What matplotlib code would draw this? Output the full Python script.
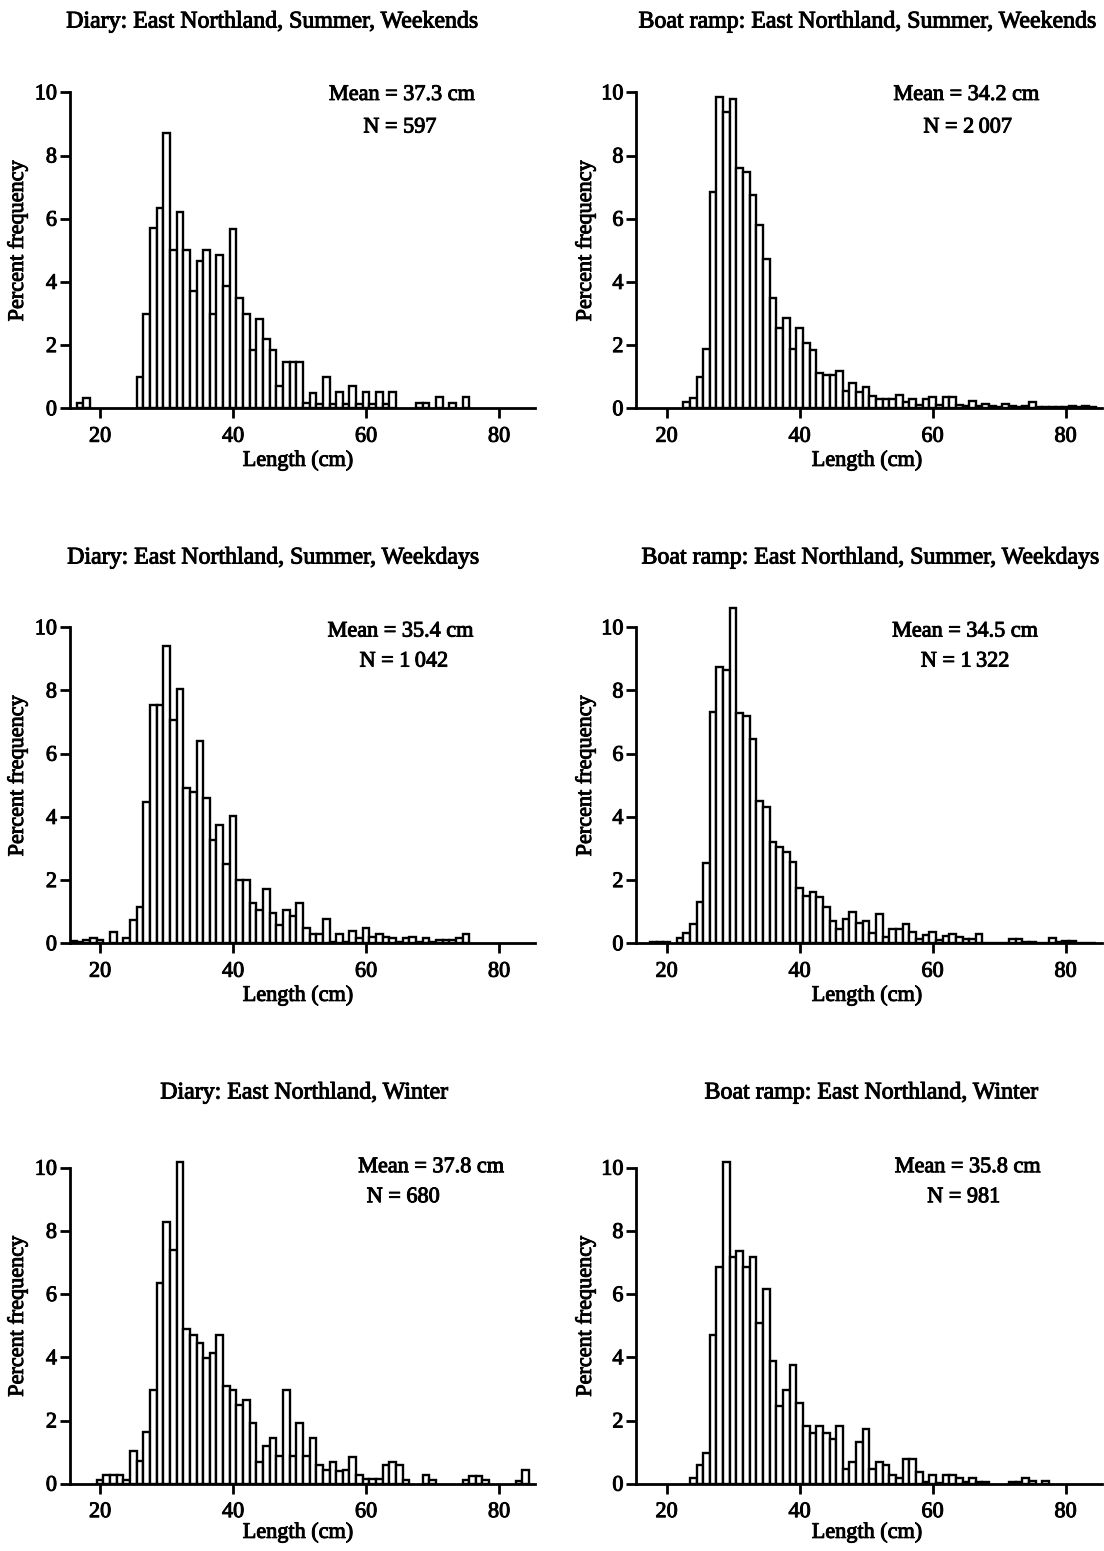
import numpy as np
import matplotlib
matplotlib.use("Agg")
import matplotlib.pyplot as plt
import matplotlib.patheffects as pe

plt.rcParams['font.family'] = ['Liberation Serif', 'DejaVu Serif']

# Length classes (cm), 1 cm bins centred on whole centimetres
lengths = np.arange(15, 86)

# Percent frequency per 1 cm length class, 15 cm .. 85 cm
diary_summer_weekends = [
    0, 0, 0.16, 0.32, 0, 0, 0, 0, 0, 0,                       # 15-24
    0, 1.0, 3.0, 5.7, 6.35, 8.7, 5.0, 6.2, 5.0, 3.7,          # 25-34
    4.66, 5.0, 3.0, 4.84, 3.86, 5.68, 3.49, 3.0, 1.85, 2.84,  # 35-44
    2.19, 1.83, 0.69, 1.48, 1.48, 1.48, 0.16, 0.48, 0.14, 1.0,  # 45-54
    0.14, 0.5, 0.14, 0.69, 0.14, 0.5, 0.14, 0.5, 0.14, 0.5,   # 55-64
    0, 0, 0, 0.18, 0.18, 0, 0.35, 0, 0.17, 0,                 # 65-74
    0.35, 0, 0, 0, 0, 0, 0, 0, 0, 0, 0,                       # 75-85
]
ramp_summer_weekends = [
    0, 0, 0, 0, 0, 0, 0, 0, 0.21, 0.32,                       # 15-24
    1.0, 1.87, 6.86, 9.86, 9.37, 9.79, 7.62, 7.48, 6.74, 5.8,  # 25-34
    4.74, 3.49, 2.54, 2.86, 1.87, 2.54, 2.06, 1.85, 1.11, 1.05,  # 35-44
    1.05, 1.17, 0.56, 0.81, 0.53, 0.67, 0.39, 0.31, 0.31, 0.31,  # 45-54
    0.42, 0.21, 0.31, 0.11, 0.31, 0.35, 0.1, 0.35, 0.35, 0.11,  # 55-64
    0.07, 0.24, 0.07, 0.14, 0.07, 0.05, 0.13, 0.07, 0.05, 0.07,  # 65-74
    0.21, 0.05, 0.05, 0.03, 0.05, 0.03, 0.07, 0.05, 0.07, 0.05, 0,  # 75-85
]
diary_summer_weekdays = [
    0, 0.07, 0.05, 0.1, 0.18, 0.1, 0, 0.37, 0, 0.18,          # 15-24
    0.74, 1.14, 4.48, 7.55, 7.55, 9.4, 7.06, 8.04, 4.9, 4.79,  # 25-34
    6.4, 4.6, 3.26, 3.74, 2.52, 4.02, 2.01, 2.01, 1.27, 1.06,  # 35-44
    1.72, 0.95, 0.58, 1.06, 0.85, 1.27, 0.48, 0.3, 0.3, 0.76,  # 45-54
    0.03, 0.3, 0.03, 0.39, 0.16, 0.5, 0.21, 0.29, 0.21, 0.18,  # 55-64
    0.05, 0.18, 0.19, 0.05, 0.18, 0.05, 0.1, 0.1, 0.1, 0.16,  # 65-74
    0.3, 0, 0, 0, 0, 0, 0, 0, 0, 0, 0,                        # 75-85
]
ramp_summer_weekdays = [
    0, 0, 0, 0.03, 0.03, 0.03, 0, 0.18, 0.32, 0.6,            # 15-24
    1.32, 2.53, 7.33, 8.75, 8.65, 10.6, 7.28, 7.18, 6.48, 4.49,  # 25-34
    4.32, 3.19, 3.05, 2.9, 2.56, 1.76, 1.5, 1.62, 1.46, 1.15,  # 35-44
    0.71, 0.45, 0.76, 0.98, 0.63, 0.69, 0.32, 0.92, 0.19, 0.44,  # 45-54
    0.44, 0.61, 0.37, 0.13, 0.26, 0.37, 0.11, 0.23, 0.3, 0.19,  # 55-64
    0.13, 0.13, 0.3, 0.02, 0.02, 0.02, 0.02, 0.13, 0.13, 0.05,  # 65-74
    0.03, 0.02, 0.02, 0.16, 0.03, 0.08, 0.08, 0.02, 0.02, 0.02, 0,  # 75-85
]
diary_winter = [
    0, 0, 0, 0, 0, 0.13, 0.28, 0.28, 0.28, 0.13,              # 15-24
    1.02, 0.71, 1.63, 2.96, 6.35, 8.27, 7.38, 10.18, 4.88, 4.72,  # 25-34
    4.44, 3.99, 4.14, 4.72, 3.1, 2.96, 2.5, 2.65, 1.92, 0.68,  # 35-44
    1.19, 1.45, 0.89, 2.96, 0.87, 1.91, 0.87, 1.45, 0.58, 0.42,  # 45-54
    0.7, 0.4, 0.42, 0.86, 0.26, 0.16, 0.16, 0.16, 0.58, 0.7,  # 55-64
    0.58, 0.13, 0, 0, 0.26, 0.13, 0, 0, 0, 0,                 # 65-74
    0.13, 0.24, 0.24, 0.13, 0, 0, 0, 0, 0.1, 0.42, 0,         # 75-85
]
ramp_winter = [
    0, 0, 0, 0, 0, 0, 0, 0, 0, 0.18,                          # 15-24
    0.6, 0.98, 4.71, 6.86, 10.18, 7.16, 7.37, 6.86, 7.16, 5.1,  # 25-34
    6.15, 3.87, 2.46, 2.97, 3.77, 2.55, 1.82, 1.61, 1.82, 1.61,  # 35-44
    1.4, 1.82, 0.47, 0.68, 1.31, 1.72, 0.47, 0.68, 0.58, 0.26,  # 45-54
    0.18, 0.79, 0.79, 0.37, 0.05, 0.26, 0.02, 0.26, 0.26, 0.18,  # 55-64
    0.05, 0.18, 0.05, 0.05, 0, 0, 0, 0.05, 0.05, 0.18,        # 65-74
    0.07, 0, 0.07, 0, 0, 0, 0, 0, 0, 0, 0,                    # 75-85
]

titles = [
    "Diary: East Northland, Summer, Weekends",
    "Boat ramp: East Northland, Summer, Weekends",
    "Diary: East Northland, Summer, Weekdays",
    "Boat ramp: East Northland, Summer, Weekdays",
    "Diary: East Northland, Winter",
    "Boat ramp: East Northland, Winter",
]
means = ["37.3", "34.2", "35.4", "34.5", "37.8", "35.8"]
counts = ["597", "2\u2009007", "1\u2009042", "1\u2009322", "680", "981"]
series = [diary_summer_weekends, ramp_summer_weekends,
          diary_summer_weekdays, ramp_summer_weekdays,
          diary_winter, ramp_winter]
x_ticks = [20, 40, 60, 80]
y_ticks = [0, 2, 4, 6, 8, 10]

# ---- layout (pixels on a 1104 x 1551 canvas) ----
W, H = 1104, 1551
X_MIN, X_MAX = 15.4, 85.4
Y_MAX = 10.8
PX_PER_CM = 6.65
PX_PER_PCT = 31.6
col_left = [69.5, 636.0]
row_zero = [408.3, 943.3, 1483.7]
title_y = [22, 558, 1093]
xlabel_y = [461, 996, 1533]
ylabel_x = [18, 586]
title_cx = [[272, 867], [273, 870], [304, 871]]
mean_pos = [[(65.4, 9.9), (65.1, 9.9)],
            [(65.2, 9.85), (64.9, 9.85)],
            [(69.8, 10.0), (65.3, 10.0)]]
n_pos = [[(65.1, 8.87), (65.3, 8.87)],
         [(65.7, 8.9), (64.9, 8.9)],
         [(65.6, 9.05), (64.7, 9.05)]]

FS = 16
FS_TITLE = 17.2
ink = [pe.withStroke(linewidth=0.7, foreground='black')]

fig = plt.figure(figsize=(W / 100, H / 100), dpi=100)

for i, vals in enumerate(series):
    r, c = divmod(i, 2)
    left = col_left[c]
    width = (X_MAX - X_MIN) * PX_PER_CM
    height = Y_MAX * PX_PER_PCT
    bottom = row_zero[r]
    ax = fig.add_axes([left / W, 1 - bottom / H, width / W, height / H])

    v = np.asarray(vals, dtype=float)
    keep = v > 0
    ax.bar(lengths[keep], v[keep], width=1.0, align='center',
           facecolor='white', edgecolor='black', linewidth=1.7, zorder=2)

    ax.set_xlim(X_MIN, X_MAX)
    ax.set_ylim(0, Y_MAX)
    for s in ('top', 'right'):
        ax.spines[s].set_visible(False)
    ax.spines['left'].set_bounds(0, 10)
    for s in ('left', 'bottom'):
        ax.spines[s].set_linewidth(2.0)
        ax.spines[s].set_zorder(3)
    ax.set_xticks(x_ticks)
    ax.set_yticks(y_ticks)
    ax.tick_params(axis='both', direction='out', length=7, width=2.0,
                   labelsize=FS)
    ax.tick_params(axis='x', pad=7)
    ax.tick_params(axis='y', pad=2)
    for lab in ax.get_xticklabels() + ax.get_yticklabels():
        lab.set_path_effects(ink)
    ax.patch.set_visible(False)

    mx, my = mean_pos[r][c]
    nx, ny = n_pos[r][c]
    ax.text(mx, my, f"Mean = {means[i]} cm", ha='center', va='center',
            fontsize=FS, path_effects=ink)
    ax.text(nx, ny, f"N = {counts[i]}", ha='center', va='center',
            fontsize=FS, path_effects=ink)

    fig.text(title_cx[r][c] / W, 1 - title_y[r] / H, titles[i],
             ha='center', va='center', fontsize=FS_TITLE, path_effects=ink)
    xl_cx = left + (298 - 69.5) if c == 0 else left + (867 - 636)
    fig.text(xl_cx / W, 1 - xlabel_y[r] / H, "Length (cm)",
             ha='center', va='center', fontsize=FS, path_effects=ink)
    fig.text(ylabel_x[c] / W, 1 - (bottom - 5.3 * PX_PER_PCT) / H,
             "Percent frequency", ha='center', va='center',
             rotation=90, fontsize=FS, path_effects=ink)

fig.savefig("out.png", dpi=100, facecolor='white')
